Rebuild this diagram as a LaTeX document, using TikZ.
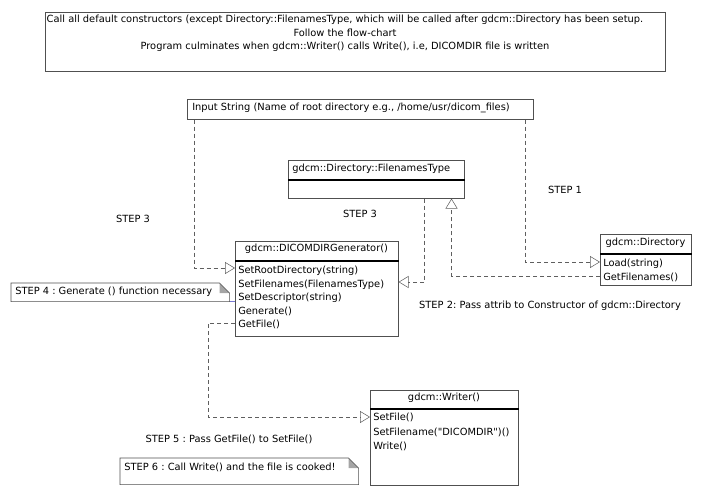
\documentclass[tikz,border=0pt]{standalone}
\usepackage{fontspec}
\setmainfont{DejaVu Sans}
\usetikzlibrary{arrows.meta}

\newdimen\upx \upx=0.75pt
\definecolor{linegray}{RGB}{80,80,80}
\definecolor{dashgray}{RGB}{95,95,95}
\definecolor{foldgray}{RGB}{165,165,165}
\definecolor{linkblue}{RGB}{120,120,210}

\tikzset{
  box/.style={draw=linegray, anchor=north west, inner sep=0pt},
  sepline/.style={line width=1.1pt},
  lefttxt/.style={anchor=west, inner sep=0pt},
  methods/.style={anchor=north west, align=left, inner sep=0pt},
  dep/.style={dash pattern=on 3pt off 2.25pt, draw=dashgray,
    -{Triangle[open, length=7.5pt, width=9pt]}},
  notebox/.style={anchor=north west, inner sep=0pt}
}

\begin{document}
\frenchspacing
\begin{tikzpicture}[x=\upx, y=-\upx, font=\fontsize{7.4}{10.1}\selectfont]
  \useasboundingbox (0,0) rectangle (703,497);

  % header
  \node[box, minimum width=620\upx, minimum height=59\upx] (intro) at (45,12) {};
  \node[align=center, anchor=north, inner sep=0pt] (introtxt) at (345,15)
    {Call all default constructors (except Directory::FilenamesType, which will be called after gdcm::Directory has been setup.\\
     Follow the flow-chart\\
     Program culminates when gdcm::Writer() calls Write(), i.e, DICOMDIR file is written};

  % input
  \node[box, minimum width=346\upx, minimum height=20\upx] (inp) at (187,99) {};
  \node[lefttxt] (inptxt) at (192,108) {Input String (Name of root directory e.g., /home/usr/dicom\_files)};

  % classes
  \node[box, minimum width=176\upx, minimum height=38\upx] (fnt) at (288,160) {};
  \node[lefttxt] (fnttitle) at (292,169) {gdcm::Directory::FilenamesType};
  \draw[sepline] ([yshift=-15pt]fnt.north west) -- ([yshift=-15pt]fnt.north east);

  \node[box, minimum width=163\upx, minimum height=95\upx] (gen) at (235,241) {};
  \node (gentitle) at (316.5,249) {gdcm::DICOMDIRGenerator()};
  \draw[sepline] ([yshift=-15pt]gen.north west) -- ([yshift=-15pt]gen.north east);
  \node[methods] (genops) at (238,266)
    {SetRootDirectory(string)\\SetFilenames(FilenamesType)\\SetDescriptor(string)\\Generate()\\GetFile()};

  \node[box, minimum width=91\upx, minimum height=51\upx] (dir) at (600,234) {};
  \node (dirtitle) at (645.5,243) {gdcm::Directory};
  \draw[sepline] ([yshift=-15pt]dir.north west) -- ([yshift=-15pt]dir.north east);
  \node[methods] (dirops) at (603,259) {Load(string)\\GetFilenames()};

  \node[box, minimum width=148\upx, minimum height=95\upx] (wri) at (370,390) {};
  \node (writitle) at (444,398) {gdcm::Writer()};
  \draw[sepline] ([yshift=-14.25pt]wri.north west) -- ([yshift=-14.25pt]wri.north east);
  \node[methods] (wriops) at (373,413)
    {SetFile()\\[0.6pt]SetFilename(\textquotedbl DICOMDIR\textquotedbl)()\\[0.6pt]Write()};

  % steps
  \node (step3a) at (133,219) {STEP 3};
  \node (step3b) at (360,214) {STEP 3};
  \node (step1) at (565,190) {STEP 1};
  \node (step2) at (550,306) {STEP 2: Pass attrib to Constructor of gdcm::Directory};
  \node (step5) at (229,439) {STEP 5 : Pass GetFile() to SetFile()};

  % notes
  \node[notebox, minimum width=218\upx, minimum height=18\upx] (note4) at (11,283) {};
  \node[lefttxt] (note4txt) at (15,292) {STEP 4 : Generate () function necessary};
  \node[notebox, minimum width=238\upx, minimum height=26\upx] (note6) at (120,458) {};
  \node[lefttxt] (note6txt) at (124,467) {STEP 6 : Call Write() and the file is cooked!};
  \foreach \n in {note4,note6} {
    \fill[foldgray] ([xshift=-7.5pt]\n.north east) -- ([xshift=-7.5pt,yshift=-7.5pt]\n.north east)
      -- ([yshift=-7.5pt]\n.north east) -- cycle;
    \draw[linegray] (\n.south west) -- (\n.north west) -- ([xshift=-7.5pt]\n.north east)
      -- ([yshift=-7.5pt]\n.north east) -- (\n.south east) -- cycle;
  }
  \draw[linkblue] (note4.south east) -- (note4.south east -| gen.west);

  % connectors
  \draw[dep] ([xshift=5.25pt]inp.south west) |- ([yshift=-20.25pt]gen.north west);
  \draw[dep] ([xshift=-6pt]inp.south east) |- ([yshift=-21pt]dir.north west);
  \draw[dep] ([yshift=-31.5pt]dir.north west) -| ([xshift=-9.75pt]fnt.south east);
  \draw[dep] ([xshift=-30pt]fnt.south east) |- ([yshift=-30.75pt]gen.north east);
  \draw[dep] ([yshift=-61.5pt]gen.north west) -- ++(-27,0) |- ([yshift=-20.25pt]wri.north west);
\end{tikzpicture}
\end{document}
